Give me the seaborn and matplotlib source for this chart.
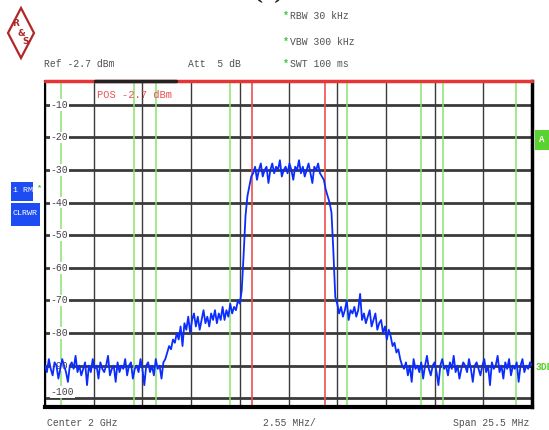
import numpy as np
import matplotlib
matplotlib.use("Agg")
import matplotlib.pyplot as plt
import matplotlib.transforms as mtransforms
from matplotlib.patches import Rectangle, Polygon
import seaborn as sns

# ---- analyzer settings / annotations ----
center_label = "Center 2 GHz"
div_label = "2.55 MHz/"
span_label = "Span 25.5 MHz"
span_mhz = 25.5
ref_level = -2.7
level_ticks = [-10, -20, -30, -40, -50, -60, -70, -80, -90, -100]
header_labels = ["RBW 30 kHz", "VBW 300 kHz", "SWT 100 ms"]

# channel limits (MHz offset from centre)
channel_edges = [-1.92, 1.92]
adjacent_edges = [-11.92, -8.08, -6.92, -3.08, 3.08, 6.92, 8.08, 11.92]

# ---- trace levels (dBm), sweep points 0.1 MHz apart ----
floor_left = [-90, -92, -88, -91, -93, -89, -90, -94, -91, -88,
              -90, -92, -95, -90, -89, -91, -87, -92, -90, -93,
              -91, -89, -96, -90, -92, -88, -91, -90, -94, -89,
              -91, -92, -90, -87, -93, -91, -90, -95, -89, -92,
              -90, -91, -88, -93, -90, -89, -94, -91, -90, -92,
              -88, -91, -96, -90, -89, -92, -90, -93, -88, -91,
              -90, -94, -89]
shoulder_left = [-88, -86, -84, -85, -82, -83, -80, -82, -78, -84,
                 -77, -79, -75, -80, -76, -74, -78, -75, -79, -76,
                 -73, -77, -75, -78, -74, -76, -73, -77, -74, -76,
                 -72, -76, -73, -75, -71, -74, -72, -73, -70, -71]
rise_left = [-67, -56, -44, -38, -35, -32]
channel = [-31, -29, -33, -30, -28, -32, -30, -29, -34, -30,
           -28, -31, -29, -30, -27, -32, -30, -29, -31, -28,
           -30, -33, -29, -30, -27, -31, -29, -32, -30, -28,
           -31, -34, -29, -30, -28, -31, -32]
fall_right = [-33, -36, -38, -40, -43, -55, -69]
shoulder_right = [-71, -74, -72, -75, -73, -70, -76, -73, -74, -72,
                  -75, -73, -68, -76, -74, -77, -75, -73, -78, -76,
                  -74, -79, -77, -76, -80, -78, -82, -79, -81, -84,
                  -83, -86, -85, -88, -90]
floor_right = [-91, -89, -93, -90, -95, -88, -91, -90, -92, -89,
               -94, -90, -87, -91, -93, -90, -89, -92, -96, -90,
               -88, -91, -90, -93, -89, -91, -87, -92, -90, -94,
               -91, -89, -90, -92, -88, -91, -95, -90, -89, -91,
               -93, -90, -88, -92, -90, -96, -89, -91, -90, -87,
               -92, -90, -94, -89, -91, -88, -93, -90, -91, -89,
               -95, -90, -88, -92, -90, -91, -89, -90]

level = np.concatenate([floor_left, shoulder_left, rise_left, channel,
                        fall_right, shoulder_right, floor_right]).astype(float)
freq = np.linspace(-span_mhz / 2, span_mhz / 2, len(level))

# ---- figure ----
sns.set_style("white")
MONO = "Liberation Mono"
plt.rcParams["font.family"] = [MONO, "DejaVu Sans"]

W, H = 549, 430
fig = plt.figure(figsize=(W / 100, H / 100), dpi=100)


def fx(px):
    return px / W


def fy(py):
    return 1 - py / H


ax = fig.add_axes([fx(45), fy(407), 487 / W, 326 / H])
ax.set_xlim(-span_mhz / 2, span_mhz / 2)
ax.set_ylim(ref_level - 100, ref_level)

# graticule
ax.set_xticks(np.linspace(-span_mhz / 2, span_mhz / 2, 11))
ax.set_yticks(level_ticks)
ax.set_axisbelow(True)
ax.xaxis.grid(True, color="#3a3a3a", lw=1.0)
ax.yaxis.grid(True, color="#3a3a3a", lw=2.0)
ax.tick_params(left=False, bottom=False, labelleft=False, labelbottom=False)

for f in adjacent_edges:
    ax.axvline(f, color="#8be36f", lw=1.1, zorder=2)
for f in channel_edges:
    ax.axvline(f, color="#ec5050", lw=1.2, zorder=2)

sns.lineplot(x=freq, y=level, ax=ax, color="#0a2cff", lw=1.3, zorder=5)

# frame
for side in ["left", "right", "bottom", "top"]:
    ax.spines[side].set_color("black")
ax.spines["left"].set_linewidth(1.5)
ax.spines["right"].set_linewidth(2.5)
ax.spines["bottom"].set_linewidth(3.0)
ax.spines["top"].set_visible(False)
ax.plot([0, 1], [1, 1], transform=ax.transAxes, color="#e53535", lw=2.5,
        clip_on=False, zorder=6)
ax.plot([(95 - 45) / 487, (176 - 45) / 487], [1, 1], transform=ax.transAxes,
        color="#222222", lw=2.5, clip_on=False, zorder=7)

# level labels inside the graticule
trans = mtransforms.blended_transform_factory(ax.transAxes, ax.transData)
for v in level_ticks:
    yv = v + 1.8 if v == -100 else v
    ax.text(0.012, yv, f"{v}", transform=trans, fontsize=7, color="#444444",
            ha="left", va="center", zorder=4,
            bbox=dict(fc="white", ec="none", pad=0.6))

ax.text((97 - 45) / 487, ref_level - (95 - 81) / 3.26, "POS -2.7 dBm",
        transform=trans, fontsize=7.5,
        color="#e85050", ha="left", va="center", zorder=6)

# header texts
txt = dict(fontsize=7, color="#505050", va="center", ha="left")
fig.text(fx(44), fy(64), "Ref -2.7 dBm", **txt)
fig.text(fx(188), fy(64), "Att  5 dB", **txt)
for label, py in zip(header_labels, [16, 42, 64]):
    fig.text(fx(283), fy(py), "*", fontsize=7, color="#3cc83c",
             fontweight="bold", va="center", ha="left")
    fig.text(fx(290), fy(py), label, **txt)

# footer texts
fig.text(fx(47), fy(423), center_label, **txt)
fig.text(fx(263), fy(423), div_label, **txt)
fig.text(fx(529), fy(423), span_label, fontsize=7, color="#505050",
         va="center", ha="right")

# partial caption at top edge
fig.text(fx(268), 0.99, "(c)", fontsize=14, fontweight="bold",
         family="DejaVu Serif", ha="center", va="bottom")

# trace / detector boxes on the left
fig.patches.append(Rectangle((fx(11), fy(201)), (33 - 11) / W, 19 / H,
                             transform=fig.transFigure, fc="#1d4cf2", ec="none"))
fig.patches.append(Rectangle((fx(11), fy(226)), (40 - 11) / W, 23 / H,
                             transform=fig.transFigure, fc="#1d4cf2", ec="none"))
fig.text(fx(13), fy(191), "1 RM", fontsize=6, color="white", va="center")
fig.text(fx(12.5), fy(214), "CLRWR", fontsize=6, color="white", va="center")
fig.text(fx(36), fy(188), "*", fontsize=6, color="#3cc83c",
         fontweight="bold", va="center")

# green marker tag on the right
fig.patches.append(Rectangle((fx(535), fy(150)), 14 / W, 20 / H,
                             transform=fig.transFigure, fc="#5ad22f", ec="none"))
fig.text(fx(539), fy(140), "A", fontsize=6.5, color="white",
         fontweight="bold", va="center")
fig.text(fx(536), fy(367), "3DB", fontsize=7, color="#5ad22f",
         fontweight="bold", va="center")

# R&S logo
fig.patches.append(Polygon([(fx(21), fy(8)), (fx(34), fy(33)),
                            (fx(21), fy(58)), (fx(8), fy(33))], closed=True,
                           transform=fig.transFigure, fc="none",
                           ec="#b02828", lw=1.6))
for ch, (px, py) in zip(["R", "&", "S"], [(16, 24), (21, 33), (26, 42)]):
    fig.text(fx(px), fy(py), ch, fontsize=6.5, color="#b02828",
             fontweight="bold", ha="center", va="center", family="DejaVu Sans")

fig.savefig("out.png", dpi=100)
